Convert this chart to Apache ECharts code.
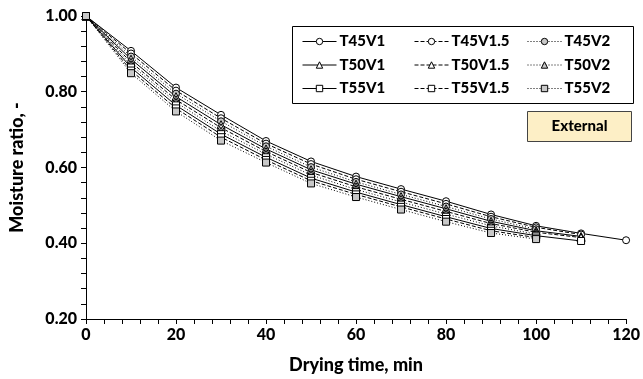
<!DOCTYPE html>
<html><head><meta charset="utf-8">
<script src="https://cdn.jsdelivr.net/npm/echarts@6/dist/echarts.min.js"></script>
<style>html,body{margin:0;padding:0;background:#fff}#c{width:643px;height:379px}</style>
</head><body><div id="c"></div>
<script>
const times = [0,10,20,30,40,50,60,70,80,90,100,110,120];
const T45V1   = [1,0.908,0.811,0.739,0.670,0.616,0.576,0.543,0.511,0.476,0.446,0.426,0.408];
const T45V15  = [1,0.901,0.803,0.730,0.663,0.609,0.569,0.536,0.504,0.470,0.442,0.423];
const T45V2   = [1,0.893,0.795,0.722,0.656,0.601,0.562,0.529,0.497,0.464,0.437];
const T50V1   = [1,0.886,0.787,0.713,0.649,0.594,0.556,0.523,0.491,0.458,0.433,0.418];
const T50V15  = [1,0.878,0.779,0.705,0.642,0.587,0.549,0.516,0.484,0.452,0.429,0.415];
const T50V2   = [1,0.871,0.772,0.696,0.635,0.580,0.542,0.509,0.477,0.446,0.424];
const T55V1   = [1,0.864,0.764,0.688,0.627,0.572,0.535,0.502,0.470,0.439,0.420,0.406];
const T55V15  = [1,0.856,0.756,0.680,0.620,0.565,0.529,0.496,0.464,0.433,0.415];
const T55V2   = [1,0.849,0.748,0.671,0.613,0.558,0.522,0.489,0.457,0.427,0.411];
const xTicks = [0,20,40,60,80,100,120];
const yTicks = [0.20,0.40,0.60,0.80,1.00];

const FONT = 'Lato';
const W = 900;
const DASH = {solid:'solid', dashed:[4,2], dotted:[1,2]};
const seriesDefs = [
  ['T45V1',T45V1,'circle','solid','#fff'],
  ['T45V1.5',T45V15,'circle','dashed','#fff'],
  ['T45V2',T45V2,'circle','dotted','#c8c8c8'],
  ['T50V1',T50V1,'triangle','solid','#fff'],
  ['T50V1.5',T50V15,'triangle','dashed','#fff'],
  ['T50V2',T50V2,'triangle','dotted','#c8c8c8'],
  ['T55V1',T55V1,'rect','solid','#fff'],
  ['T55V1.5',T55V15,'rect','dashed','#fff'],
  ['T55V2',T55V2,'rect','dotted','#c8c8c8']
];
const series = seriesDefs.map(([name,vals,sym,ls,fill]) => ({
  name, type:'line', data: vals.map((v,i)=>[times[i],v]),
  symbol: sym, symbolSize: sym==='triangle'?8:7, showSymbol:true,
  lineStyle:{color:'#000',width:1,type:DASH[ls]},
  itemStyle:{color:fill,borderColor:'#000',borderWidth:1},
  emphasis:{disabled:true}, animation:false
}));
const legendCommon = {orient:'vertical',itemWidth:34,itemHeight:8,itemGap:8.5,
  lineStyle:{width:1},
  itemStyle:{borderWidth:1},
  textStyle:{fontFamily:FONT,fontWeight:W,fontSize:15,color:'#000',padding:[0,0,0,-2]},
  selectedMode:false, top:29};
const chart = echarts.init(document.getElementById('c'));
chart.setOption({
  animation:false,
  grid:{left:85,right:13,top:16,bottom:59},
  xAxis:{type:'value',min:0,max:120,interval:20,
    name:'Drying time, min',nameLocation:'middle',nameGap:37,
    nameTextStyle:{fontFamily:FONT,fontWeight:W,fontSize:18,color:'#000'},
    axisLine:{lineStyle:{color:'#000',width:1}},
    axisTick:{show:true,length:5,lineStyle:{color:'#000'}},
    minorTick:{show:true,splitNumber:5,length:5,lineStyle:{color:'#000'}},
    splitLine:{show:false},
    axisLabel:{fontFamily:FONT,fontWeight:W,fontSize:16,color:'#000',margin:8,
      formatter:v=>xTicks.includes(v)?String(v):''}},
  yAxis:{type:'value',min:0.2,max:1.0,interval:0.2,
    name:'Moisture ratio, -',nameLocation:'middle',nameGap:60,
    nameTextStyle:{fontFamily:FONT,fontWeight:W,fontSize:18,color:'#000'},
    axisLine:{show:true,lineStyle:{color:'#000',width:1}},
    axisTick:{show:true,length:5,lineStyle:{color:'#000'}},
    minorTick:{show:true,splitNumber:5,length:5,lineStyle:{color:'#000'}},
    splitLine:{show:false},
    axisLabel:{fontFamily:FONT,fontWeight:W,fontSize:16,color:'#000',margin:9,
      formatter:v=>{const t=yTicks.find(k=>Math.abs(k-v)<1e-6);return t===undefined?'':t.toFixed(2);}}},
  legend:[
    Object.assign({},legendCommon,{left:297,data:['T45V1','T50V1','T55V1']}),
    Object.assign({},legendCommon,{left:409,data:['T45V1.5','T50V1.5','T55V1.5']}),
    Object.assign({},legendCommon,{left:522,data:['T45V2','T50V2','T55V2']})
  ],
  graphic:[
    {type:'rect',shape:{x:292.5,y:26.5,width:341,height:77},style:{fill:'none',stroke:'#000',lineWidth:1},z:1},
    {type:'rect',shape:{x:527.5,y:111.5,width:104,height:30},style:{fill:'#fdefc6',stroke:'#444',lineWidth:1},z:1},
    {type:'text',x:579.5,y:126.5,style:{text:'External',fill:'#000',font:'900 15px Lato',textAlign:'center',textVerticalAlign:'middle'},z:2}
  ],
  series
});
</script></body></html>
